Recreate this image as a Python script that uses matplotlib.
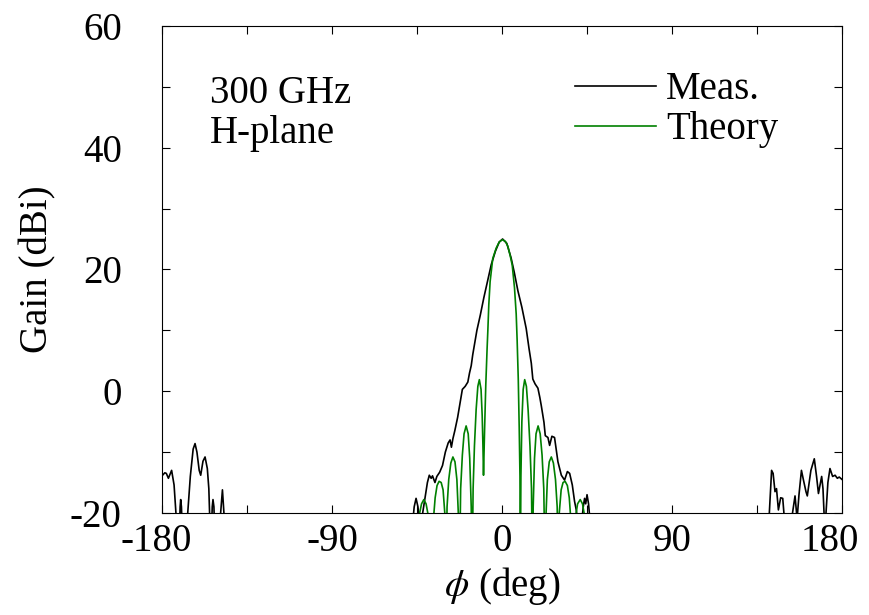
import matplotlib
matplotlib.use('Agg')
import matplotlib.pyplot as plt
from matplotlib.ticker import MultipleLocator

meas_phi = [-180, -178.5, -177.7, -176.6, -174.9, -173.6, -172.4, -171.0, -170.4, -170.1, -169.7,
            -169.0, -166.6, -165.0, -163.5, -162.5, -161.5, -160.3, -159.5, -158.3, -157.2,
            -156.0, -155.2, -154.7, -154.0, -153.4, -153.0, -152.5, -152.0, -149.2, -148.0,
            -147.0, -146.0, -120.0, -60.0,
            -48.0, -46.5, -45.5, -44.5, -43.5, -42.0, -40.5, -39.5, -38.5, -37.5, -36.8, -35.5,
            -34.5, -33.0, -31.5, -30.0, -28.5, -27.5, -26.8, -26.0, -25.0, -23.5, -22.0, -21.0,
            -19.5, -18.1, -17.2, -16.3, -15.5, -14.3, -13.3, -11.5, -9.6, -7.5, -5.7, -3.5,
            -1.5, 0.3, 2.5, 4.8, 6.5, 8.4, 10.5, 12.8, 14.3, 15.5, 16.3, 17.5, 19.0, 20.0,
            20.8, 22.2, 22.9, 24.3, 25.2, 26.4, 27.8, 29.6, 31.4, 33.1, 34.6, 35.8, 37.2,
            38.4, 39.3, 40.3, 42.0, 43.0, 43.7, 44.3, 45.0, 45.8, 46.5, 48.0,
            60.0, 120.0,
            140.0, 141.5, 142.7, 143.5, 144.5, 145.3, 146.3, 147.5, 148.6, 149.5, 150.5, 153.3,
            155.1, 156.2, 157.2, 158.5, 159.5, 160.9, 161.6, 163.5, 165.3, 166.5, 167.5, 168.3,
            169.2, 169.9, 170.6, 171.5, 172.5, 173.6, 175.0, 176.3, 177.5, 178.5, 180]
meas_gain = [-13.9, -13.4, -13.5, -14.3, -13.0, -15.4, -21, -25, -19, -17.8, -19,
             -25, -21, -14, -9.5, -8.6, -10, -13, -13.8, -11.5, -10.8,
             -12.7, -16, -21, -25, -19, -17.8, -19, -25, -21, -16.2,
             -21, -25, -30, -30,
             -24, -19, -17.6, -19, -22, -20, -17, -15, -13.8, -14.3, -13.9, -15.0,
             -14.0, -13.3, -12.2, -10.0, -8.5, -8.0, -9.2, -7.8, -6.5, -4.3, -1.5, 0.3,
             0.8, 1.5, 3.0, 4.2, 6.0, 8.2, 10.0, 12.5, 15.4, 18.3, 20.8, 23.0,
             24.5, 25.0, 24.3, 21.9, 19.5, 16.5, 13.8, 10.3, 7.0, 4.6, 2.0, 1.2, 0.5, -1.0,
             -2.4, -5.1, -7.3, -7.6, -8.9, -7.4, -7.6, -11.6, -13.8, -14.6, -13.2, -13.5, -15.4,
             -18.1, -19.5, -22, -22, -19, -17.6, -18.5, -17.0, -18.5, -21, -24,
             -30, -30,
             -25, -20, -13.0, -13.5, -16.5, -16.0, -19.5, -17.5, -17.6, -21, -25, -21,
             -17.2, -21, -17, -13.0, -14.5, -16.5, -17.2, -13, -11.1, -14, -16.8, -15.5,
             -14.0, -16, -21, -20, -15, -12.7, -14.0, -13.8, -14.3, -14.1, -14.5]

# theoretical pattern (deg, dBi)
theory_phi = [-45.0, -43.8, -42.6, -41.4, -40.2, -39.0, -37.4,
              -36.3, -35.4, -34.4, -33.3, -32.2, -31.2, -30.3, -29.6,
              -29.1, -28.2, -27.1, -26.0, -24.9, -23.9, -23.0, -22.5,
              -21.9, -21.0, -20.1, -19.0, -17.9, -17.1, -16.3, -15.8,
              -15.3, -14.6, -13.7, -12.8, -12.0, -11.1, -10.5, -10.1, -9.8,
              -9.2, -8.6, -7.9, -7.5, -7.0, -6.3, -4.9, -3.1, -1.5, 0.2, 1.8, 3.1, 4.3,
              5.4, 6.6, 7.5, 8.0, 8.6, 9.1, 9.5, 9.7,
              10.0, 10.5, 11.2, 12.0, 12.9, 13.8, 14.8, 15.6, 16.1,
              16.5, 17.2, 18.0, 19.1, 20.2, 21.2, 22.1, 22.8,
              23.2, 24.0, 25.0, 26.1, 27.2, 28.3, 29.2, 29.8,
              30.3, 31.3, 32.3, 33.4, 34.6, 35.6, 36.4, 37.2,
              39.0, 40.0, 41.4, 42.6, 43.6, 44.8]
theory_gain = [-30, -20.3, -18.5, -17.8, -18.5, -20.5, -30,
               -21, -17.5, -15.5, -14.8, -15.0, -16.2, -20, -30,
               -19, -14.5, -11.8, -10.8, -11.6, -14.5, -21, -30,
               -16, -10.5, -7.0, -5.7, -7.0, -11, -19, -30,
               -16, -9, -3, 0.8, 1.9, 0.3, -4, -9, -13.8,
               -6, 1, 7, 10, 14.2, 18.0, 21.8, 23.5, 24.5, 24.9, 24.6, 23.8, 22.3,
               20.7, 17.0, 12.7, 8.4, 2, -6, -14, -30,
               -14, -5, 0.3, 1.9, 0.8, -3, -9, -16, -30,
               -19, -11, -7, -5.7, -7, -10.5, -16, -30,
               -21, -14.5, -11.6, -10.8, -11.8, -14.5, -19, -30,
               -20, -16.2, -15.0, -14.8, -15.5, -17.5, -21, -30,
               -20.5, -18.5, -17.8, -18.5, -20.3, -30]

xticks = [-180, -90, 0, 90, 180]
xtick_labels = ['-180', '-90', '0', '90', '180']

plt.rcParams['font.family'] = ['Liberation Serif', 'DejaVu Serif']
plt.rcParams['mathtext.fontset'] = 'stix'
plt.rcParams['axes.unicode_minus'] = False

fig = plt.figure(figsize=(8.69, 6.15), dpi=100)
ax = fig.add_axes([0.1864, 0.1659, 0.7826, 0.7919])

ax.plot(meas_phi, meas_gain, color='black', lw=1.2, label='Meas.')
ax.plot(theory_phi, theory_gain, color='#008000', lw=1.2, label='Theory')

ax.set_xlim(-180, 180)
ax.set_ylim(-20, 60)
ax.set_xticks(xticks)
ax.xaxis.set_minor_locator(MultipleLocator(45))
ax.yaxis.set_major_locator(MultipleLocator(20))
ax.yaxis.set_minor_locator(MultipleLocator(10))
ax.tick_params(which='both', direction='in', top=True, right=True, width=0.8, labelsize=28)
ax.tick_params(which='major', length=6)
ax.tick_params(which='minor', length=5.5)
ax.tick_params(axis='y', which='major', pad=29)
ax.tick_params(axis='x', labelbottom=False)
for s in ax.spines.values():
    s.set_linewidth(0.8)

# x tick labels placed by hand so the outer ones sit a bit inward, as in the original
shifts = {-180: -4, 180: -9}
for v, lab in zip(xticks, xtick_labels):
    ax.annotate(lab, xy=(v, 0), xycoords=('data', 'axes fraction'),
                xytext=(shifts.get(v, 0), -7), textcoords='offset points',
                ha='center', va='top', fontsize=28)

ax.set_xlabel(r'$\phi$ (deg)', fontsize=28, labelpad=34)
ax.set_ylabel('Gain (dBi)', fontsize=28, labelpad=10)

ax.text(0.07, 0.842, '300 GHz', transform=ax.transAxes, fontsize=28)
ax.text(0.07, 0.76, 'H-plane', transform=ax.transAxes, fontsize=28)

ax.legend(loc='upper left', bbox_to_anchor=(0.607, 0.907), frameon=False, fontsize=28,
          handlelength=2.1, handletextpad=0.25, labelspacing=0.08, borderpad=0,
          borderaxespad=0)

fig.savefig('out.png', dpi=100)
